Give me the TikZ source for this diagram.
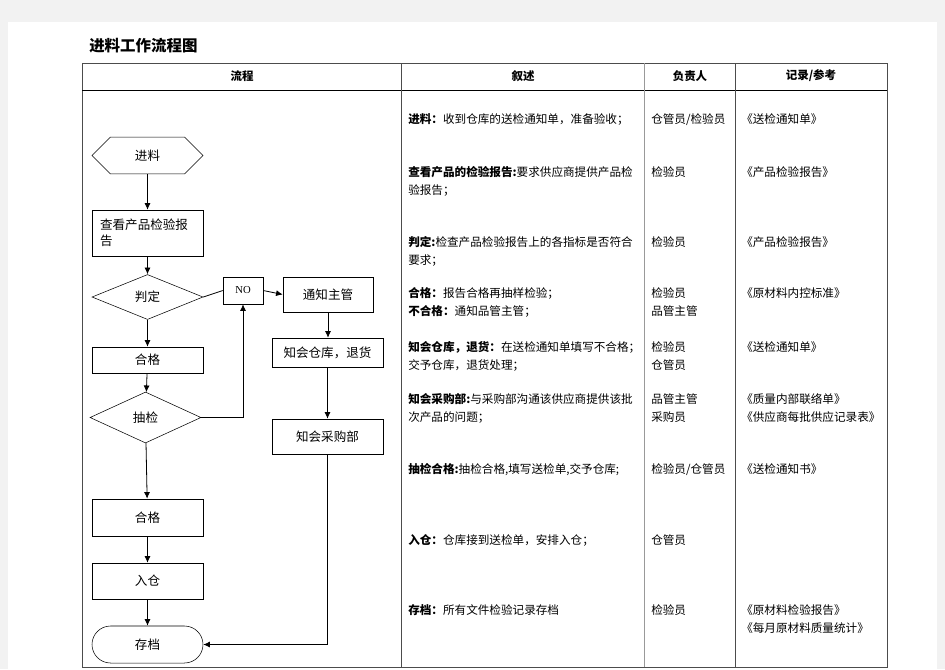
\documentclass[tikz,border=0pt]{standalone}
\usepackage{fontspec}
\setmainfont{Noto Sans CJK SC}
\newfontfamily\nofont{Liberation Serif}
\usepackage{tikz}
\usetikzlibrary{arrows,arrows.meta,positioning,calc,shapes.geometric,shapes.misc}

\tikzset{
	flowbox/.style={rectangle, draw, minimum width=83.25pt, inner sep=2pt, font=\fontsize{9.4}{12}\selectfont},
	flowdiam/.style={diamond, draw, minimum width=83.25pt, inner sep=0pt, font=\fontsize{9.4}{12}\selectfont},
	flowarr/.style={-{Latex[length=5pt,width=4.5pt]}, line width=0.6pt},
	desc/.style={anchor=north west, align=left, inner sep=0pt, font=\fontsize{8.7}{13.5}\selectfont},
	headtxt/.style={font=\bfseries\fontsize{8.6}{10}\selectfont},
	tabline/.style={draw=black!70, line width=0.7pt}
}

\begin{document}
\begin{tikzpicture}[x=0.75pt, y=-0.75pt]
		\useasboundingbox (0,0) rectangle (945,669);
		\fill[black!5] (0,0) rectangle (945,669);
		\fill[white] (8,22) rectangle (937,669);
		%title and table
		\node at (89,46) [anchor=west, inner sep=0pt, font=\bfseries\fontsize{11.6}{12}\selectfont] (title) {进料工作流程图};
		\draw [tabline] (82,63) rectangle (887,667);
		\draw [tabline, draw=black] (82,90) -- (887,90);
		\draw [tabline] (401,63) -- (401,667);
		\draw [tabline, draw=black!40] (644,63) -- (644,667);
		\draw [tabline] (735,63) -- (735,667);
		\node at (242,76) [headtxt] (h1) {流程};
		\node at (523,76) [headtxt] (h2) {叙述};
		\node at (690,76) [headtxt] (h3) {负责人};
		\node at (811,76) [headtxt] (h4) {记录/参考};
		%flow chart
		\node at (147.5,155.5) [draw, chamfered rectangle, chamfered rectangle xsep=15.75pt, chamfered rectangle ysep=13.1pt, minimum width=83.25pt, minimum height=26.25pt, inner sep=0pt, font=\fontsize{9.4}{12}\selectfont] (jinliao) {进料};
		\node at (147.5,233) [flowbox, minimum height=34.5pt, text width=71pt, inner xsep=6pt, align=left] (chakan) {查看产品检验报\\告};
		\node at (147.5,297) [flowdiam, minimum height=33.75pt] (panding) {判定};
		\node at (243,290.5) [flowbox, minimum width=30pt, minimum height=20.25pt, font=\nofont\fontsize{8}{10}\selectfont] (no) {NO};
		\node at (328,294.5) [flowbox, minimum width=67.5pt, minimum height=26.25pt] (tongzhi) {通知主管};
		\node at (327.5,352.5) [flowbox, minimum height=21.75pt] (cangku) {知会仓库，退货};
		\node at (327.5,436.5) [flowbox, minimum height=26.25pt] (caigou) {知会采购部};
		\node at (147.5,360) [flowbox, minimum height=19.5pt] (hege) {合格};
		\node at (145.5,417.5) [flowdiam, minimum height=38.25pt] (choujian) {抽检};
		\node at (147.5,517.5) [flowbox, minimum height=27.75pt] (hegeb) {合格};
		\node at (147.5,581) [flowbox, minimum height=27pt] (rucang) {入仓};
		\node at (147.5,644.5) [draw, rounded rectangle, minimum width=83.25pt, minimum height=27.75pt, inner sep=0pt, font=\fontsize{9.4}{12}\selectfont] (cundang) {存档};
		\draw [flowarr] (jinliao) edge (chakan) (chakan) edge (panding) (panding) edge (hege) (hege) edge (choujian);
		\draw [flowarr] (choujian) edge (hegeb) (hegeb) edge (rucang) (rucang) edge (cundang);
		\draw [line width=0.6pt] (panding.east) -- (no.west);
		\draw [flowarr] (no.east) -- (tongzhi.west);
		\draw [flowarr] (choujian.east) -| (no.south);
		\draw [flowarr] (tongzhi.south) -- (tongzhi.south |- cangku.north);
		\draw [flowarr] (cangku) -- (caigou);
		\draw [flowarr] (caigou.south) |- (cundang.east);
		%description
		\node at (408,113) [desc] (d1) {\textbf{进料：}收到仓库的送检通知单，准备验收；};
		\node at (408,166) [desc] (d2) {\textbf{查看产品的检验报告:}要求供应商提供产品检\\验报告；};
		\node at (408,236) [desc] (d3) {\textbf{判定:}检查产品检验报告上的各指标是否符合\\要求；};
		\node at (408,287) [desc] (d4) {\textbf{合格：}报告合格再抽样检验；\\\textbf{不合格：}通知品管主管；};
		\node at (408,341) [desc] (d5) {\textbf{知会仓库，退货：}在送检通知单填写不合格；\\交予仓库，退货处理；};
		\node at (408,393) [desc] (d6) {\textbf{知会采购部:}与采购部沟通该供应商提供该批\\次产品的问题；};
		\node at (408,463) [desc] (d7) {\textbf{抽检合格:}抽检合格,填写送检单,交予仓库;};
		\node at (408,534) [desc] (d8) {\textbf{入仓：}仓库接到送检单，安排入仓；};
		\node at (408,604) [desc] (d9) {\textbf{存档：}所有文件检验记录存档};
		%persons
		\node at (651,113) [desc] (p1) {仓管员/检验员};
		\node at (651,166) [desc] (p2) {检验员};
		\node at (651,236) [desc] (p3) {检验员};
		\node at (651,287) [desc] (p4) {检验员\\品管主管};
		\node at (651,341) [desc] (p5) {检验员\\仓管员};
		\node at (651,393) [desc] (p6) {品管主管\\采购员};
		\node at (651,463) [desc] (p7) {检验员/仓管员};
		\node at (651,534) [desc] (p8) {仓管员};
		\node at (651,604) [desc] (p9) {检验员};
		%records
		\node at (741,113) [desc] (r1) {《送检通知单》};
		\node at (741,166) [desc] (r2) {《产品检验报告》};
		\node at (741,236) [desc] (r3) {《产品检验报告》};
		\node at (741,287) [desc] (r4) {《原材料内控标准》};
		\node at (741,341) [desc] (r5) {《送检通知单》};
		\node at (741,393) [desc] (r6) {《质量内部联络单》\\《供应商每批供应记录表》};
		\node at (741,463) [desc] (r7) {《送检通知书》};
		\node at (741,604) [desc] (r9) {《原材料检验报告》\\《每月原材料质量统计》};
\end{tikzpicture}
\end{document}
